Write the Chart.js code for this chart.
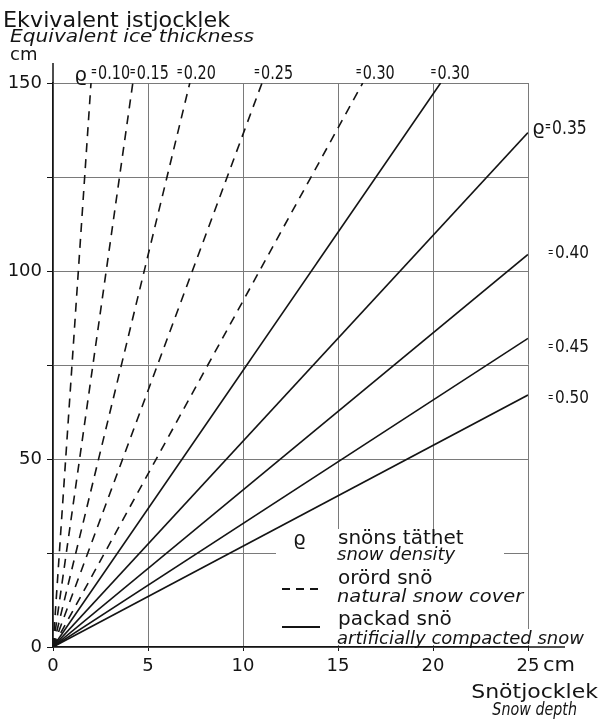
<!DOCTYPE html>
<html>
<head>
<meta charset="utf-8">
<script src="https://cdn.jsdelivr.net/npm/chart.js@4/dist/chart.umd.min.js"></script>
<style>
  html, body { margin: 0; padding: 0; background: #fff; }
  #wrap { width: 600px; height: 723px; }
</style>
</head>
<body>
<div id="wrap"><canvas id="c" width="600" height="723"></canvas></div>
<script>
// Natural (undisturbed) snow cover: lines from the origin to the top of the chart
const naturalDensity = [0.10, 0.15, 0.20, 0.25, 0.30];
const naturalEndDepth = [2.0, 4.2, 7.2, 11.0, 16.3];
const naturalEndIce = [150, 150, 150, 150, 150];

// Artificially compacted snow
const compactedDensity = [0.30, 0.35, 0.40, 0.45, 0.50];
const compactedEndDepth = [20.4, 25, 25, 25, 25];
const compactedEndIce = [150, 136.8, 104.4, 82.1, 67.0];

// Axis labelling
const depthTickLabels = [0, 5, 10, 15, 20, 25];
const iceTickLabels = [0, 50, 100, 150];

const FONT = "'DejaVu Sans', 'Liberation Sans', sans-serif";
const INK = '#141414';
const GRID = '#7a7a7a';

function drawText(ctx, str, x, y, size, opts = {}) {
  ctx.save();
  ctx.font = (opts.italic ? 'italic ' : '') + size + 'px ' + FONT;
  ctx.fillStyle = INK;
  ctx.textBaseline = 'alphabetic';
  ctx.textAlign = opts.align || 'left';
  ctx.translate(x, y);
  ctx.scale(opts.sx || 1, 1);
  ctx.fillText(str, 0, 0);
  ctx.restore();
}

// "=0.25" style label: a small equals mark followed by narrow digits
function densityLabel(ctx, d, x, y, size, sx) {
  drawText(ctx, '=', x - 1, y - size * 0.13, Math.round(size * 0.7), { sx: 0.5 });
  drawText(ctx, d.toFixed(2), x + 6, y, size, { sx });
}

const datasets = [];
naturalDensity.forEach((d, i) => {
  datasets.push({
    label: 'orörd snö ϱ=' + d.toFixed(2),
    data: [{ x: 0, y: 0 }, { x: naturalEndDepth[i], y: naturalEndIce[i] }],
    showLine: true,
    borderColor: INK,
    borderWidth: 1.6,
    borderDash: [9, 7],
    pointRadius: 0,
    fill: false
  });
});
compactedDensity.forEach((d, i) => {
  datasets.push({
    label: 'packad snö ϱ=' + d.toFixed(2),
    data: [{ x: 0, y: 0 }, { x: compactedEndDepth[i], y: compactedEndIce[i] }],
    showLine: true,
    borderColor: INK,
    borderWidth: 1.6,
    pointRadius: 0,
    fill: false
  });
});

// White panel behind the key so the grid does not run through its text
const keyBackground = {
  id: 'keyBackground',
  beforeDatasetsDraw(chart) {
    const ctx = chart.ctx;
    ctx.save();
    ctx.fillStyle = '#fff';
    ctx.fillRect(276, 529, 228, 116);
    ctx.fillRect(500, 629, 84, 16);
    ctx.restore();
  }
};

// Titles, density labels, axis extensions and the key
const annotations = {
  id: 'annotations',
  afterDraw(chart) {
    const ctx = chart.ctx;
    const xs = chart.scales.x, ys = chart.scales.y;
    const area = chart.chartArea;

    // axis extensions
    ctx.save();
    ctx.strokeStyle = INK;
    ctx.lineWidth = 1.5;
    ctx.beginPath();
    ctx.moveTo(area.left, area.top);
    ctx.lineTo(area.left, area.top - 20);
    ctx.moveTo(area.right, area.bottom);
    ctx.lineTo(area.right + 37, area.bottom);
    ctx.stroke();
    ctx.restore();

    // y-axis title
    drawText(ctx, 'Ekvivalent istjocklek', 3, 27, 21, { sx: 1.06 });
    drawText(ctx, 'Equivalent ice thickness', 10, 42, 18, { italic: true, sx: 1.12 });
    drawText(ctx, 'cm', 10, 60, 18);

    // x-axis title and unit
    drawText(ctx, 'cm', area.right + 15, 671, 20, { sx: 1.05 });
    drawText(ctx, 'Snötjocklek', 598, 698, 20, { align: 'right', sx: 1.1 });
    drawText(ctx, 'Snow depth', 577, 715, 17, { align: 'right', italic: true, sx: 0.84 });

    // density labels along the top edge
    const topBase = area.top - 4;
    const topShift = [1, -2, -12, -7, -6];
    naturalDensity.forEach((d, i) => {
      const px = xs.getPixelForValue(naturalEndDepth[i]);
      densityLabel(ctx, d, px + topShift[i], topBase, 20, 0.72);
      if (i === 0) drawText(ctx, 'ϱ', px - 4, topBase + 2, 20, { align: 'right' });
    });
    const rightNudge = [0, 1, 4, 14, 8];
    compactedDensity.forEach((d, i) => {
      const px = xs.getPixelForValue(compactedEndDepth[i]);
      const py = ys.getPixelForValue(compactedEndIce[i]);
      if (compactedEndIce[i] >= ys.max) {
        densityLabel(ctx, d, px - 9, topBase, 20, 0.72);
      } else if (i === 1) {
        drawText(ctx, 'ϱ', area.right + 4, py + rightNudge[i], 20);
        densityLabel(ctx, d, area.right + 18, py + rightNudge[i], 20, 0.78);
      } else {
        densityLabel(ctx, d, area.right + 21, py + rightNudge[i], 18, 0.85);
      }
    });

    // key
    drawText(ctx, 'ϱ', 293, 545, 20);
    drawText(ctx, 'snöns täthet', 338, 544, 20);
    drawText(ctx, 'snow density', 337, 560, 18, { italic: true });

    ctx.save();
    ctx.strokeStyle = INK;
    ctx.lineWidth = 1.8;
    ctx.setLineDash([8, 6]);
    ctx.beginPath();
    ctx.moveTo(282, 589);
    ctx.lineTo(322, 589);
    ctx.stroke();
    ctx.setLineDash([]);
    ctx.lineWidth = 2;
    ctx.beginPath();
    ctx.moveTo(282, 627);
    ctx.lineTo(320, 627);
    ctx.stroke();
    ctx.restore();

    drawText(ctx, 'orörd snö', 338, 584, 20);
    drawText(ctx, 'natural snow cover', 337, 602, 18, { italic: true, sx: 1.08 });
    drawText(ctx, 'packad snö', 338, 625, 20);
    drawText(ctx, 'artificially compacted snow', 337, 644, 18, { italic: true });
  }
};

new Chart(document.getElementById('c'), {
  type: 'scatter',
  data: { datasets },
  options: {
    responsive: false,
    devicePixelRatio: 1,
    animation: false,
    layout: { padding: { top: 83, right: 72, left: 0, bottom: 0 } },
    plugins: {
      legend: { display: false },
      tooltip: { enabled: false }
    },
    scales: {
      x: {
        type: 'linear',
        min: 0,
        max: 25,
        afterFit(scale) { scale.height = 76; },
        ticks: {
          stepSize: 5,
          color: INK,
          padding: 5,
          maxRotation: 0,
          font: { family: FONT, size: 18 },
          callback: v => depthTickLabels.includes(v) ? String(v) : ''
        },
        grid: { color: GRID, lineWidth: 1, tickLength: 4, tickColor: INK },
        border: { color: INK, width: 1.5 }
      },
      y: {
        type: 'linear',
        min: 0,
        max: 150,
        afterFit(scale) { scale.width = 53; },
        ticks: {
          stepSize: 25,
          color: INK,
          padding: 5,
          font: { family: FONT, size: 18 },
          callback: v => iceTickLabels.includes(v) ? String(v) : ''
        },
        grid: { color: GRID, lineWidth: 1, tickLength: 6, tickColor: INK },
        border: { color: INK, width: 1.5 }
      }
    }
  },
  plugins: [keyBackground, annotations]
});
</script>
</body>
</html>
